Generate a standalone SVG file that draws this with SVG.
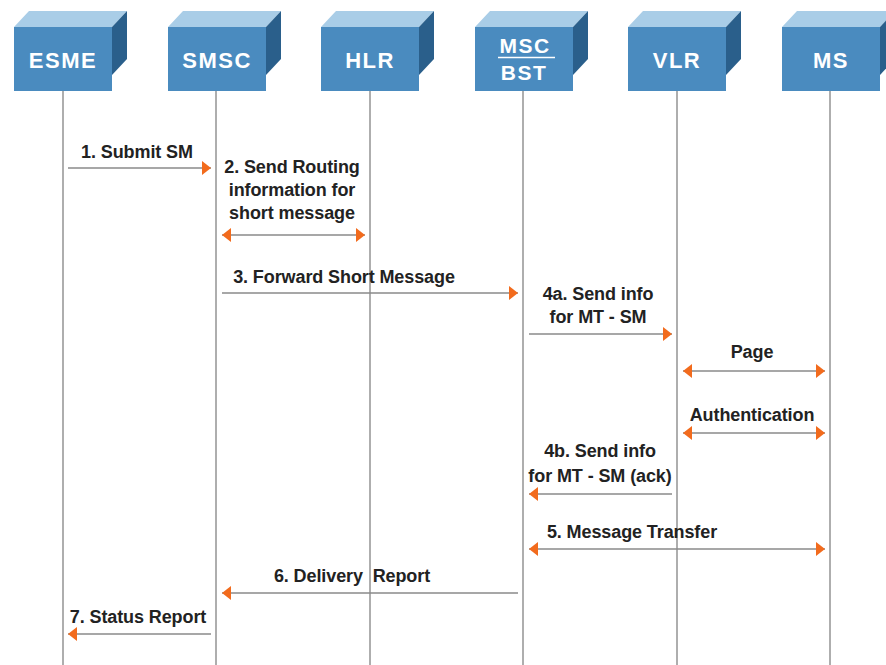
<svg xmlns="http://www.w3.org/2000/svg" width="886" height="665" viewBox="0 0 886 665">
<defs>
<style>
.front{fill:#4a8bbf}
.top{fill:#a9cde7}
.side{fill:#2a5f8b}
.nlabel{font-family:"Liberation Sans",Arial,sans-serif;font-weight:bold;font-size:22px;fill:#ffffff;text-anchor:middle;letter-spacing:1.5px}
.life{stroke:#9a9a9a;stroke-width:1.6;fill:none}
.msg{stroke:#8a8a8a;stroke-width:1.6;fill:none}
.lbl{font-family:"Liberation Sans",Arial,sans-serif;font-weight:bold;font-size:18px;fill:#222222;text-anchor:middle;letter-spacing:-0.1px}
</style>
<marker id="ah" viewBox="0 0 9 14" refX="9" refY="7" markerWidth="9" markerHeight="14" markerUnits="userSpaceOnUse" orient="auto-start-reverse">
<path d="M0,0 L9,7 L0,14 z" fill="#f26b1d"/>
</marker>
<g id="box">
<polygon class="top" points="0,16 15,0 113,0 98,16"/>
<polygon class="side" points="98,16 113,0 113,48 98,64"/>
<rect class="front" x="0" y="16" width="98" height="64"/>
</g>
</defs>
<rect width="886" height="665" fill="#ffffff"/>
<g id="lifelines">
<line class="life" x1="63" y1="90" x2="63" y2="665"/>
<line class="life" x1="216" y1="90" x2="216" y2="665"/>
<line class="life" x1="370" y1="90" x2="370" y2="665"/>
<line class="life" x1="523" y1="90" x2="523" y2="665"/>
<line class="life" x1="677" y1="90" x2="677" y2="665"/>
<line class="life" x1="830" y1="90" x2="830" y2="665"/>
</g>
<g id="node-esme">
<use href="#box" x="14" y="11"/>
<text class="nlabel" x="63" y="68">ESME</text>
</g>
<g id="node-smsc">
<use href="#box" x="168" y="11"/>
<text class="nlabel" x="217" y="68">SMSC</text>
</g>
<g id="node-hlr">
<use href="#box" x="321" y="11"/>
<text class="nlabel" x="370" y="68">HLR</text>
</g>
<g id="node-msc">
<use href="#box" x="475" y="11"/>
<text class="nlabel" x="525" y="53" style="font-size:21px">MSC</text>
<line x1="498" y1="57.5" x2="555" y2="57.5" stroke="#ffffff" stroke-width="1.5"/>
<text class="nlabel" x="524" y="80" style="font-size:21px">BST</text>
</g>
<g id="node-vlr">
<use href="#box" x="628" y="11"/>
<text class="nlabel" x="677" y="68">VLR</text>
</g>
<g id="node-ms">
<use href="#box" x="782" y="11"/>
<text class="nlabel" x="831" y="68">MS</text>
</g>
<g id="connectors">
<line class="msg" x1="68" y1="168" x2="211" y2="168" marker-end="url(#ah)"/>
<line class="msg" x1="222" y1="235" x2="365" y2="235" marker-start="url(#ah)" marker-end="url(#ah)"/>
<line class="msg" x1="222" y1="293" x2="518" y2="293" marker-end="url(#ah)"/>
<line class="msg" x1="529" y1="334" x2="672" y2="334" marker-end="url(#ah)"/>
<line class="msg" x1="683" y1="371" x2="825" y2="371" marker-start="url(#ah)" marker-end="url(#ah)"/>
<line class="msg" x1="683" y1="433" x2="825" y2="433" marker-start="url(#ah)" marker-end="url(#ah)"/>
<line class="msg" x1="672" y1="494" x2="529" y2="494" marker-end="url(#ah)"/>
<line class="msg" x1="529" y1="549" x2="825" y2="549" marker-start="url(#ah)" marker-end="url(#ah)"/>
<line class="msg" x1="518" y1="593" x2="222" y2="593" marker-end="url(#ah)"/>
<line class="msg" x1="211" y1="634" x2="68" y2="634" marker-end="url(#ah)"/>
</g>
<g id="labels">
<text class="lbl" x="137" y="158">1. Submit SM</text>
<text class="lbl" x="292" y="173">2. Send Routing</text>
<text class="lbl" x="292" y="196">information for</text>
<text class="lbl" x="292" y="219">short message</text>
<text class="lbl" x="344" y="283">3. Forward Short Message</text>
<text class="lbl" x="598" y="300">4a. Send info</text>
<text class="lbl" x="598" y="323">for MT - SM</text>
<text class="lbl" x="752" y="358">Page</text>
<text class="lbl" x="752" y="421">Authentication</text>
<text class="lbl" x="600" y="457">4b. Send info</text>
<text class="lbl" x="600" y="482">for MT - SM (ack)</text>
<text class="lbl" x="632" y="538">5. Message Transfer</text>
<text class="lbl" x="352" y="582" xml:space="preserve">6. Delivery  Report</text>
<text class="lbl" x="138" y="623">7. Status Report</text>
</g>
</svg>
